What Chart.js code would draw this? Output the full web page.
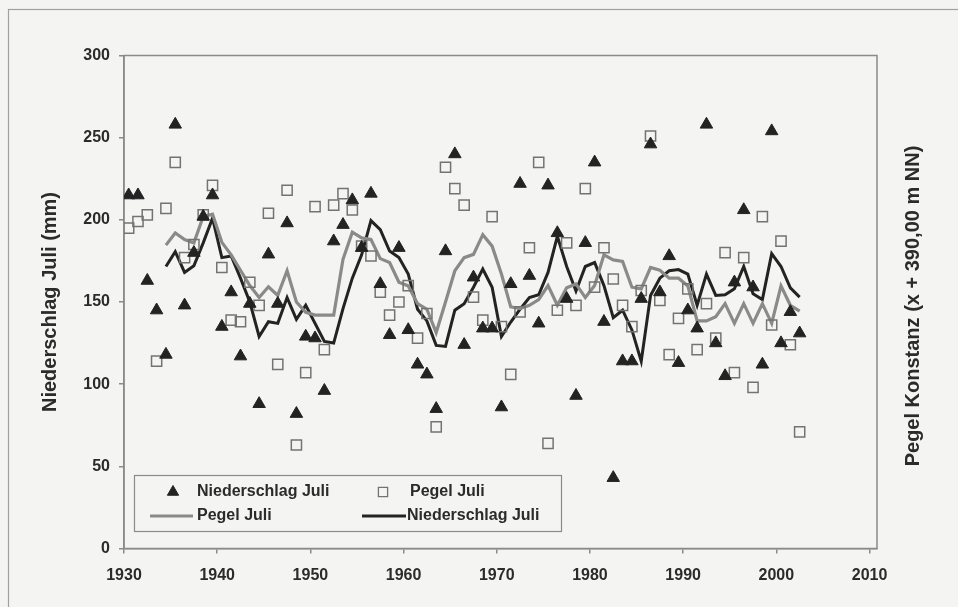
<!DOCTYPE html>
<html><head><meta charset="utf-8">
<script src="https://cdn.jsdelivr.net/npm/chart.js@4/dist/chart.umd.min.js"></script>
<style>html,body{margin:0;padding:0;background:#f3f3f1;}#wrap{width:958px;height:607px;}</style>
</head><body><div id="wrap"><canvas id="c" width="958" height="607"></canvas></div>
<script>
// ---- data ----
const years = [1930,1931,1932,1933,1934,1935,1936,1937,1938,1939,
  1940,1941,1942,1943,1944,1945,1946,1947,1948,1949,
  1950,1951,1952,1953,1954,1955,1956,1957,1958,1959,
  1960,1961,1962,1963,1964,1965,1966,1967,1968,1969,
  1970,1971,1972,1973,1974,1975,1976,1977,1978,1979,
  1980,1981,1982,1983,1984,1985,1986,1987,1988,1989,
  1990,1991,1992,1993,1994,1995,1996,1997,1998,1999,
  2000,2001,2002];
const niederschlagJuli = [215,215,163,145,118,258,148,180,202,215,
  135,156,117,149,88,179,149,198,82,129,
  128,96,187,197,212,183,216,161,130,183,
  133,112,106,85,181,240,124,165,134,134,
  86,161,222,166,137,221,192,152,93,186,
  235,138,43,114,114,152,246,156,178,113,
  145,134,258,125,105,162,206,159,112,254,
  125,144,131];
const pegelJuli = [195,199,203,114,207,235,177,185,203,221,
  171,139,138,162,148,204,112,218,63,107,
  208,121,209,216,206,184,178,156,142,150,
  160,128,143,74,232,219,209,153,139,202,
  135,106,144,183,235,64,145,186,148,219,
  159,183,164,148,135,157,251,151,118,140,
  158,121,149,128,180,107,177,98,202,136,
  187,124,71];
const trendYears = [1934,1935,1936,1937,1938,1939,1940,1941,1942,1943,
  1944,1945,1946,1947,1948,1949,1950,1951,1952,1953,
  1954,1955,1956,1957,1958,1959,1960,1961,1962,1963,
  1964,1965,1966,1967,1968,1969,1970,1971,1972,1973,
  1974,1975,1976,1977,1978,1979,1980,1981,1982,1983,
  1984,1985,1986,1987,1988,1989,1990,1991,1992,1993,
  1994,1995,1996,1997,1998,1999,2000,2001,2002];
const niederschlagTrend = [171.6,180.6,168,172,186,201,177,178,164.5,150,
  129,138,137,152.7,139.5,148,137,126,125,146,
  164.5,178.7,199.5,194,181,177,167,145.6,138.5,123.6,
  123,145,149,159,170,159,129,137.8,145.6,152.7,
  154.4,168,190,171.6,156.7,171.6,174,160,140.4,145,
  133,114,154,164.5,169,169.7,167,148,167,154,
  154.4,158,171.6,155,151.5,179.4,171.6,158.6,153];
const pegelTrend = [184.6,192,188,186,202,203.5,186.3,178.7,169.3,160,
  152.7,159.3,154,169,150,143.7,142,142,142,176,
  192.5,189,188,176.4,174,162,159.8,149,145.6,131.4,
  150,169,177,179,191,184,167,147,146,148,
  151.5,160,148,158.6,161,152.7,160,178.7,175.6,174.7,
  159,158,171,169.3,164.5,164.5,159.8,138.5,138.5,141,
  149,137,149,137,149,137,159.8,148,144.4];
const xTickValues = [1930,1940,1950,1960,1970,1980,1990,2000,2010];
const yTickValues = [0,50,100,150,200,250,300];

// annual values are plotted at mid-year
const toPoints = (xs, ys) => xs.map((x, i) => ({x: x + 0.5, y: ys[i]}));

const FONT = "'Liberation Sans', Arial, sans-serif";
const TEXT = '#2b2b2b';
const FRAME = '#8a8a8a';

const bgPlugin = {
  id: 'bg',
  beforeDraw(chart) {
    const ctx = chart.ctx;
    ctx.save();
    ctx.fillStyle = '#f4f4f2';
    ctx.fillRect(0, 0, chart.width, chart.height);
    ctx.strokeStyle = '#a0a0a0';
    ctx.lineWidth = 1.2;
    ctx.strokeRect(8.5, 9.5, 1000, 1000);
    ctx.restore();
  },
  beforeDatasetsDraw(chart) {
    const {ctx, chartArea: a} = chart;
    ctx.save();
    ctx.strokeStyle = FRAME;
    ctx.lineWidth = 1.5;
    ctx.strokeRect(a.left, a.top, a.right - a.left, a.bottom - a.top);
    ctx.restore();
  },
  afterDraw(chart) {
    const ctx = chart.ctx;
    const ds = chart.data.datasets;
    ctx.save();
    // right axis title
    ctx.fillStyle = TEXT;
    ctx.font = 'bold 20px ' + FONT;
    ctx.textAlign = 'center';
    ctx.textBaseline = 'middle';
    ctx.translate(913, 306);
    ctx.rotate(-Math.PI / 2);
    ctx.fillText('Pegel Konstanz (x + 390,00 m NN)', 0, 0);
    ctx.restore();

    // legend
    ctx.save();
    ctx.fillStyle = '#f4f4f2';
    ctx.fillRect(134.5, 475.5, 427, 56);
    ctx.strokeStyle = FRAME;
    ctx.lineWidth = 1.2;
    ctx.strokeRect(134.5, 475.5, 427, 56);
    const r1 = 492, r2 = 516;
    ctx.fillStyle = ds[0].backgroundColor; ctx.strokeStyle = ds[0].borderColor; ctx.lineWidth = 1;
    Chart.helpers.drawPoint(ctx, {pointStyle: 'triangle', radius: 6.5, rotation: 0, borderWidth: 1}, 173, r1);
    ctx.strokeStyle = ds[1].borderColor; ctx.lineWidth = 1.3; ctx.fillStyle = 'rgba(0,0,0,0)';
    Chart.helpers.drawPoint(ctx, {pointStyle: 'rect', radius: 6.5, rotation: 0, borderWidth: 1.3}, 383, r1);
    ctx.font = 'bold 16px ' + FONT;
    ctx.textAlign = 'left';
    ctx.textBaseline = 'middle';
    ctx.fillStyle = TEXT;
    ctx.fillText(ds[0].label, 197, r1);
    ctx.fillText(ds[1].label, 410, r1);
    ctx.lineWidth = 3;
    ctx.strokeStyle = ds[2].borderColor;
    ctx.beginPath(); ctx.moveTo(150, r2); ctx.lineTo(193, r2); ctx.stroke();
    ctx.strokeStyle = ds[3].borderColor;
    ctx.beginPath(); ctx.moveTo(362, r2); ctx.lineTo(406, r2); ctx.stroke();
    ctx.fillText(ds[2].label, 197, r2);
    ctx.fillText(ds[3].label, 407, r2);
    ctx.restore();
  }
};

new Chart(document.getElementById('c'), {
  type: 'scatter',
  data: {
    datasets: [
      {label: 'Niederschlag Juli', data: toPoints(years, niederschlagJuli),
       pointStyle: 'triangle', pointRadius: 7.2, pointHoverRadius: 7.2,
       backgroundColor: '#232323', borderColor: '#232323', borderWidth: 1, showLine: false},
      {label: 'Pegel Juli', data: toPoints(years, pegelJuli),
       pointStyle: 'rect', pointRadius: 7.2, pointHoverRadius: 7.2,
       backgroundColor: 'rgba(0,0,0,0)', borderColor: '#737373', borderWidth: 1.5, showLine: false},
      {label: 'Pegel Juli', data: toPoints(trendYears, pegelTrend),
       showLine: true, pointRadius: 0, borderColor: '#8a8a8a', borderWidth: 3.2, fill: false, tension: 0},
      {label: 'Niederschlag Juli', data: toPoints(trendYears, niederschlagTrend),
       showLine: true, pointRadius: 0, borderColor: '#232323', borderWidth: 3, fill: false, tension: 0}
    ]
  },
  options: {
    responsive: false,
    animation: false,
    devicePixelRatio: 1,
    layout: {padding: {top: 55.5, left: 0, right: 0, bottom: 0}},
    plugins: {legend: {display: false}, tooltip: {enabled: false}},
    scales: {
      x: {
        type: 'linear', min: 1930, max: 2010.8,
        afterBuildTicks: s => { s.ticks = xTickValues.map(v => ({value: v})); },
        afterFit: s => { s.height = 58.5; },
        ticks: {color: TEXT, font: {family: FONT, size: 16, weight: 'bold'}, padding: 12, maxRotation: 0,
                callback: v => String(v)},
        grid: {drawOnChartArea: false, tickLength: 5, color: FRAME, lineWidth: 1.5},
        border: {color: FRAME, width: 1.5}
      },
      y: {
        min: 0, max: 300,
        afterBuildTicks: s => { s.ticks = yTickValues.map(v => ({value: v})); },
        afterFit: s => { s.width = 124; },
        ticks: {color: TEXT, font: {family: FONT, size: 16, weight: 'bold'}, padding: 9,
                callback: v => String(v)},
        grid: {drawOnChartArea: false, tickLength: 5, color: FRAME, lineWidth: 1.5},
        border: {color: FRAME, width: 1.5},
        title: {display: true, text: 'Niederschlag Juli (mm)', color: TEXT,
                font: {family: FONT, size: 20, weight: 'bold'}, padding: {top: 38, bottom: 0}}
      },
      y2: {
        position: 'right', min: 0, max: 300,
        afterFit: s => { s.width = 81; },
        ticks: {display: false},
        grid: {display: false},
        border: {display: false}
      }
    }
  },
  plugins: [bgPlugin]
});
</script></body></html>
